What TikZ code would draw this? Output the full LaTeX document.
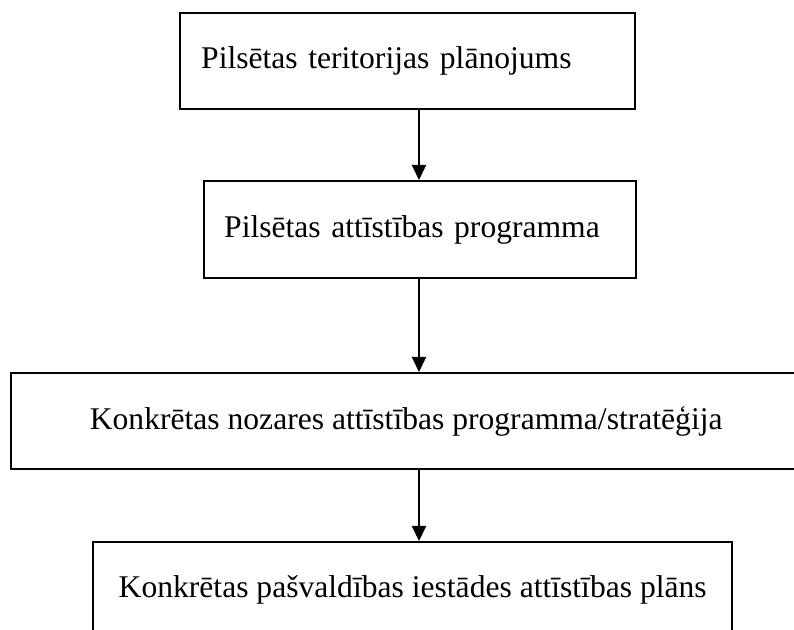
\documentclass[tikz,border=0pt]{standalone}
\usepackage{fontspec}
\setmainfont{Liberation Serif}
\usetikzlibrary{arrows.meta}

\begin{document}
\begin{tikzpicture}[x=0.5pt, y=-0.5pt,
		box/.style={draw, line width=1.2pt, anchor=north west, inner ysep=0pt, minimum height=48pt, font=\fontsize{15.8}{18}\selectfont},
		flow/.style={line width=1pt, -{Triangle[length=7.5pt, width=7pt]}}]
			\useasboundingbox (0,0) rectangle (794,630);
			\coordinate (axis) at (419,0);
			\node[box, inner xsep=10.5pt, text width=206.5pt, align=left] (plan) at (179,12) {Pilsētas teritorijas plānojums};
			\node[box, inner xsep=10pt, text width=196pt, minimum height=48.5pt, align=left] (prog) at (203,180) {Pilsētas attīstības programma};
			\node[box, minimum width=395pt] (nozare) at (10,372) {Konkrētas nozares attīstības programma/stratēģija};
			\node[box, minimum width=319.5pt] (iestade) at (92,541) {Konkrētas pašvaldības iestādes attīstības plāns};
			\foreach \a/\b in {plan/prog, prog/nozare, nozare/iestade}
				\draw[flow] (\a.south -| axis) -- (\b.north -| axis);
		\end{tikzpicture}
\end{document}
